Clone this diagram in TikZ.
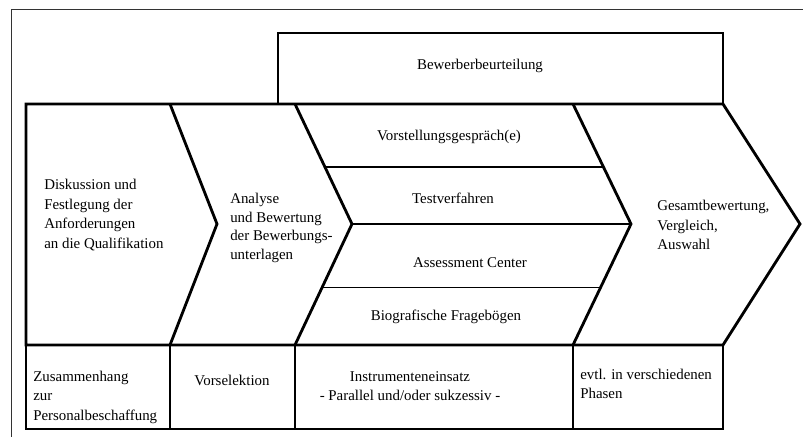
\documentclass[tikz,border=0pt]{standalone}
\usepackage{fontspec}
\setmainfont{Liberation Serif}
\usetikzlibrary{calc}

\begin{document}
\begin{tikzpicture}[
  x=0.025cm, y=-0.025cm,
  font=\fontsize{10.6}{13.9}\selectfont,
  heavy/.style={line width=2pt, line join=miter},
  rule/.style={line width=1.3pt},
  frame/.style={line width=0.6pt, draw=black!80},
  stage/.style={align=left, inner sep=0pt, anchor=west},
  tool/.style={align=center, inner sep=0pt}
]
  \useasboundingbox (0,0) rectangle (803,445);

  % chevron corners
  \coordinate (c1top) at (170,104);
  \coordinate (c1tip) at (217,224);
  \coordinate (c1bot) at (170,345);
  \coordinate (c2top) at (295,104);
  \coordinate (c2tip) at (352,224);
  \coordinate (c2bot) at (295,345);
  \coordinate (c3top) at (573,104);
  \coordinate (c3tip) at (631,224);
  \coordinate (c3bot) at (573,345);
  \coordinate (c4top) at (723,104);
  \coordinate (c4tip) at (800,224);
  \coordinate (c4bot) at (723,345);

  % frame round everything (top and left edge)
  \draw[frame] (803,9) -- (11,9) -- (11,437);

  % head box
  \draw[heavy] (278,104) -- (278,33) -- (723,33) -- (c4top);

  % main band
  \draw[heavy] (26,345) -- (26,104) -- (c4top) -- (c4tip) -- (c4bot) -- cycle;
  \draw[heavy] (c1top) -- (c1tip) -- (c1bot);
  \draw[heavy] (c2top) -- (c2tip) -- (c2bot);
  \draw[heavy] (c3top) -- (c3tip) -- (c3bot);

  % rows of the instruments
  \draw[rule] ($(c2top)!.525!(c2tip)$) -- ($(c3top)!.525!(c3tip)$);
  \draw[rule] (c2tip) -- (c3tip);
  \draw[rule] ($(c2tip)!.525!(c2bot)$) -- ($(c3tip)!.525!(c3bot)$);

  % bottom row
  \draw[heavy] (26,345) rectangle (723,429);
  \draw[rule] (c1bot) -- (170,429);
  \draw[rule] (c2bot) -- (295,429);
  \draw[rule] (c3bot) -- (573,429);

  % texts
  \node[tool] (head) at (480,66) {Bewerberbeurteilung};

  \node[stage] (req) at (44,215) {Diskussion und\\Festlegung der\\Anforderungen\\an die Qualifikation};
  \node[stage, font=\fontsize{10.6}{13.3}\selectfont] (docs) at (230,228)
    {Analyse\\und Bewertung\\der Bewerbungs-\\unterlagen};
  \node[stage] (total) at (657,225) {Gesamtbewertung,\\Vergleich,\\Auswahl};

  \node[tool] (talk)   at (449,137) {Vorstellungsgespräch(e)};
  \node[tool] (test)   at (453,198) {Testverfahren};
  \node[tool] (ac)     at (470,263) {Assessment Center};
  \node[tool] (bio)    at (446,317) {Biografische Fragebögen};

  \node[stage] (link)  at (33,397)  {Zusammenhang\\zur\\Personalbeschaffung};
  \node[tool] (presel) at (232,380) {Vorselektion};
  \node[tool] (use)    at (410,386) {Instrumenteneinsatz\\- Parallel und/oder sukzessiv -};
  \node[stage] (phase) at (580,384) {evtl. in verschiedenen\\Phasen};
\end{tikzpicture}
\end{document}
